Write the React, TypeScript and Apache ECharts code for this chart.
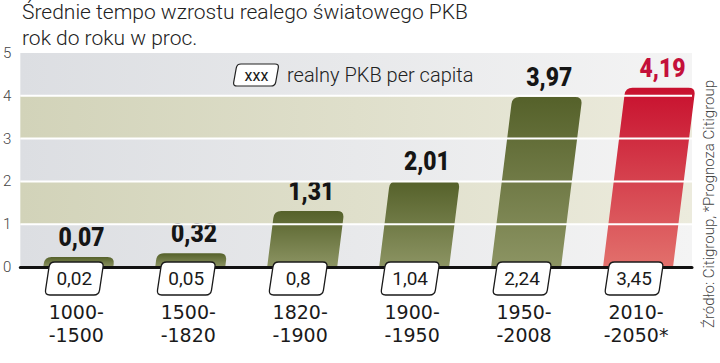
import React, { useEffect, useRef } from "react";
import * as echarts from "echarts";

const titleLines = ["Średnie tempo wzrostu realego światowego PKB", "rok do roku w proc."];
const categories = ["1000-\n-1500", "1500-\n-1820", "1820-\n-1900", "1900-\n-1950", "1950-\n-2008", "2010-\n-2050*"];
const gdpGrowth = [0.07, 0.32, 1.31, 2.01, 3.97, 4.19];
const perCapita = [0.02, 0.05, 0.8, 1.04, 2.24, 3.45];
const isForecast = [false, false, false, false, false, true];
const yTicks = [0, 1, 2, 3, 4, 5];
const legendText = "realny PKB per capita";
const legendSample = "xxx";
const sourceText = "Źródło: Citigroup, *Prognoza Citigroup";

const fmt = (v: number) => String(v).replace(".", ",");

function unit(from: number[], to: number[]) {
  const dx = from[0] - to[0];
  const dy = from[1] - to[1];
  const l = Math.sqrt(dx * dx + dy * dy) || 1;
  return [dx / l, dy / l];
}

function cornerPath(pts: number[][], radii: number[]) {
  let d = "";
  const n = pts.length;
  const f = (p: number[]) => p[0].toFixed(2) + " " + p[1].toFixed(2);
  for (let i = 0; i < n; i++) {
    const p = pts[i];
    const prev = pts[(i - 1 + n) % n];
    const next = pts[(i + 1) % n];
    const r = radii[i];
    if (r <= 0) {
      d += (i === 0 ? "M" : "L") + f(p) + " ";
      continue;
    }
    const u1 = unit(prev, p);
    const u2 = unit(next, p);
    const a = [p[0] + u1[0] * r, p[1] + u1[1] * r];
    const b = [p[0] + u2[0] * r, p[1] + u2[1] * r];
    d += (i === 0 ? "M" : "L") + f(a) + " Q " + f(p) + " " + f(b) + " ";
  }
  return d + "Z";
}

function para(xb: number, yb: number, w: number, h: number, s: number) {
  return [
    [xb, yb],
    [xb + w, yb],
    [xb + w + s, yb - h],
    [xb + s, yb - h],
  ];
}

const FONT = "Roboto, 'Noto Sans', sans-serif";
const BOLD_FONT = "Roboto, 'Liberation Sans', sans-serif";

export default function App() {
  const ref = useRef<HTMLDivElement>(null);

  useEffect(() => {
    if (!ref.current) return;
    const legendPath = cornerPath(para(233, 86, 42, 22, 4), [4, 4, 4, 4]);
    echarts.graphic.registerShape("legendBox", echarts.graphic.extendPath(legendPath, {}) as any);

    const chart = echarts.init(ref.current, undefined, { renderer: "svg" });

    const bandData = yTicks.slice(0, -1).map((t, i) => [0, t, yTicks[i + 1]]);
    const innerTicks = yTicks.slice(1, -1).map((t) => [0, t]);

    const option: any = {
      animation: false,
      backgroundColor: "#ffffff",
      grid: { left: 17, right: 28, top: 53, bottom: 96, containLabel: false },
      xAxis: {
        type: "category",
        data: categories,
        boundaryGap: true,
        z: 4,
        axisLine: { show: true, lineStyle: { color: "#111111", width: 3 } },
        axisTick: { show: false },
        axisLabel: {
          margin: 33,
          fontSize: 19,
          lineHeight: 23,
          color: "#1a1a1a",
          fontFamily: "'DejaVu Sans', sans-serif",
          interval: 0,
        },
        splitLine: { show: false },
      },
      yAxis: {
        type: "value",
        min: 0,
        max: 5,
        interval: 1,
        axisLine: { show: false },
        axisTick: { show: false },
        splitLine: { show: false },
        axisLabel: { fontSize: 15, color: "#444444", margin: 9, fontFamily: FONT, fontWeight: 300 },
      },
      series: [
        {
          type: "custom",
          z: 1,
          silent: true,
          data: bandData,
          encode: { x: 0, y: [1, 2] },
          renderItem: (params: any, api: any) => {
            const lo = api.value(1);
            const hi = api.value(2);
            const p0 = api.coord([0, lo]);
            const p1 = api.coord([0, hi]);
            const cs = params.coordSys;
            const olive = params.dataIndex % 2 === 1;
            return {
              type: "rect",
              shape: { x: cs.x, y: p1[1], width: cs.width, height: p0[1] - p1[1] },
              style: {
                fill: new echarts.graphic.LinearGradient(0, 0, 1, 0, [
                  { offset: 0, color: olive ? "#d2d3b9" : "#dcdee2" },
                  { offset: 1, color: olive ? "#ecebdd" : "#f4f4f4" },
                ]),
              },
            };
          },
        },
        {
          type: "custom",
          z: 2,
          data: gdpGrowth.map((v, i) => [i, v]),
          encode: { x: 0, y: 1 },
          renderItem: (params: any, api: any) => {
            const idx = api.value(0);
            const val = api.value(1);
            const base = api.coord([idx, 0]);
            const top = api.coord([idx, val]);
            const h = Math.max(base[1] - top[1], 10);
            const s = h * 0.125;
            const w = 70;
            const xb = base[0] - w / 2 + 2;
            const yb = base[1];
            const fc = isForecast[idx];
            return {
              type: "group",
              children: [
                {
                  type: "path",
                  shape: { pathData: cornerPath(para(xb, yb, w, h, s), [0, 0, 7, 7]) },
                  style: {
                    fill: new echarts.graphic.LinearGradient(0, 0, 0, 1, [
                      { offset: 0, color: fc ? "#c8102e" : "#55612a" },
                      { offset: 1, color: fc ? "#e2706c" : "#8c9463" },
                    ]),
                  },
                },
                {
                  type: "text",
                  x: xb + s + w / 2 + 2,
                  y: yb - h - 20,
                  scaleX: 0.88,
                  style: {
                    text: fmt(val),
                    align: "center",
                    verticalAlign: "middle",
                    fontSize: 26,
                    fontWeight: 900,
                    fontFamily: BOLD_FONT,
                    fill: fc ? "#c4103a" : "#151515",
                  },
                },
              ],
            };
          },
        },
        {
          type: "custom",
          z: 3,
          silent: true,
          data: innerTicks,
          encode: { x: 0, y: 1 },
          renderItem: (params: any, api: any) => {
            const p = api.coord([0, api.value(1)]);
            const cs = params.coordSys;
            return {
              type: "line",
              shape: { x1: cs.x, y1: p[1], x2: cs.x + cs.width, y2: p[1] },
              style: { stroke: "#ffffff", lineWidth: 2 },
            };
          },
        },
        {
          type: "custom",
          z: 5,
          data: perCapita.map((v, i) => [i, v]),
          encode: { x: 0, y: 1 },
          renderItem: (params: any, api: any) => {
            const idx = api.value(0);
            const val = api.value(1);
            const base = api.coord([idx, 0]);
            const w = 54;
            const h = 33;
            const s = 5;
            const xb = base[0] - 31.5;
            const yb = base[1] + 28;
            return {
              type: "group",
              children: [
                {
                  type: "path",
                  shape: { pathData: cornerPath(para(xb, yb, w, h, s), [5, 5, 5, 5]) },
                  style: { fill: "#ffffff", stroke: "#1a1a1a", lineWidth: 1.3 },
                },
                {
                  type: "text",
                  x: xb + s / 2 + w / 2,
                  y: yb - h / 2,
                  style: {
                    text: fmt(val),
                    align: "center",
                    verticalAlign: "middle",
                    fontSize: 19,
                    fontFamily: FONT,
                    fill: "#1a1a1a",
                  },
                },
              ],
            };
          },
        },
      ],
      graphic: [
        {
          type: "text",
          left: 22,
          top: 1,
          style: { text: titleLines[0], fontSize: 21, fontWeight: 300, fontFamily: FONT, fill: "#222222" },
        },
        {
          type: "text",
          left: 22,
          top: 27,
          style: { text: titleLines[1], fontSize: 21, fontWeight: 300, fontFamily: FONT, fill: "#222222" },
        },
        {
          type: "legendBox",
          x: 0,
          y: 0,
          z: 10,
          style: { fill: "#ffffff", stroke: "#222222", lineWidth: 1.2 },
        },
        {
          type: "text",
          x: 256.5,
          y: 75,
          z: 11,
          style: {
            text: legendSample,
            align: "center",
            verticalAlign: "middle",
            fontSize: 16,
            fontFamily: FONT,
            fill: "#1a1a1a",
          },
        },
        {
          type: "text",
          x: 287,
          y: 75,
          z: 11,
          style: {
            text: legendText,
            align: "left",
            verticalAlign: "middle",
            fontSize: 20,
            fontWeight: 300,
            fontFamily: FONT,
            fill: "#222222",
          },
        },
        {
          type: "text",
          x: 709,
          y: 204,
          rotation: Math.PI / 2,
          z: 11,
          style: {
            text: sourceText,
            align: "center",
            verticalAlign: "middle",
            fontSize: 15,
            fontWeight: 300,
            fontFamily: FONT,
            fill: "#444444",
          },
        },
      ],
    };

    chart.setOption(option);
    return () => {
      chart.dispose();
    };
  }, []);

  return (
    <div
      ref={ref}
      style={{ position: "fixed", left: 0, top: 0, width: 720, height: 363, background: "#fff" }}
    />
  );
}
